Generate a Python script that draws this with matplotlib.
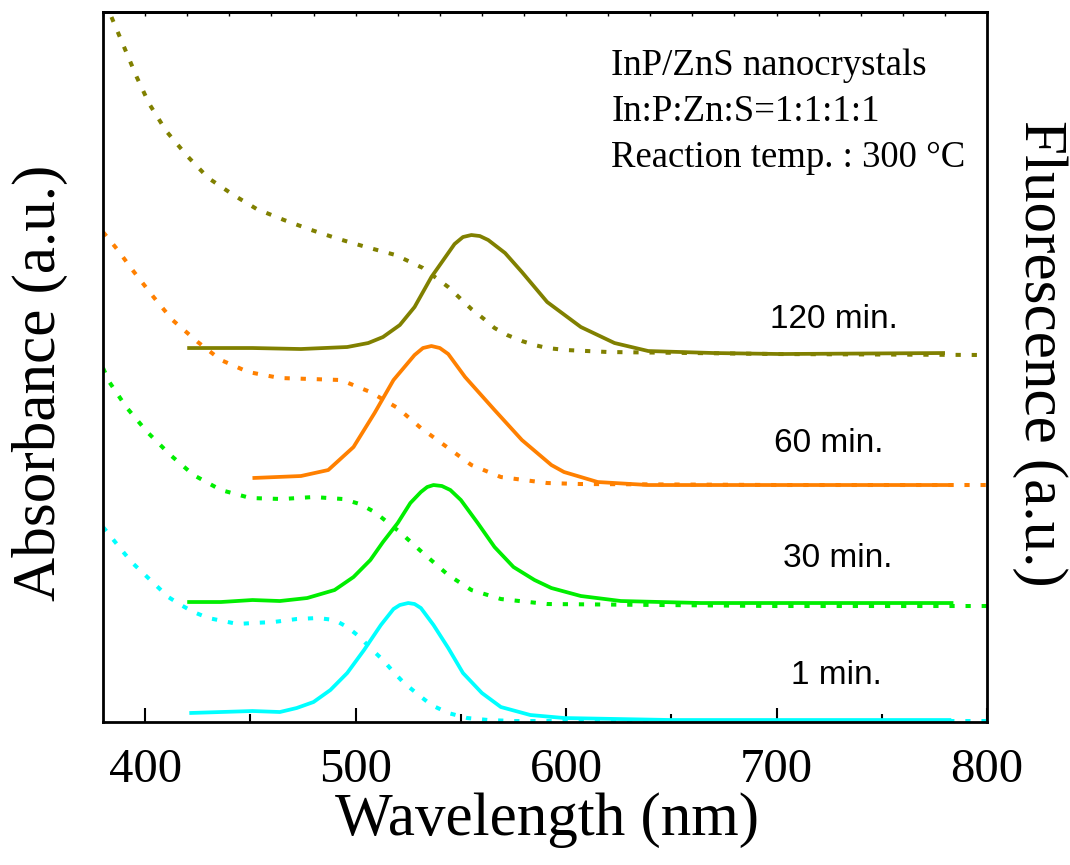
import numpy as np
import matplotlib
matplotlib.use("Agg")
import matplotlib.pyplot as plt
from matplotlib.ticker import MultipleLocator

# absorbance (dotted) and fluorescence (solid), arbitrary units, stacked
abs120_wl = [384, 390, 396, 402, 410, 420, 430, 442, 453, 466, 479, 492, 505, 519, 532, 544,
             555, 561, 566, 572, 579, 585, 591, 600, 620, 700, 800]
abs120 = [705, 675, 645, 618, 591, 566, 544, 527, 513, 502, 492, 483, 475, 467, 454, 435,
          413, 403, 394, 387, 381, 377, 374, 372, 370, 368, 367]
pl120_wl = [420, 451, 474, 496, 506, 513, 521, 528, 536, 541, 547, 551, 555, 559, 563, 571,
            579, 591, 607, 623, 639, 670, 702, 780]
pl120 = [374, 374, 373, 375, 379, 385, 397, 415, 445, 460, 478, 485, 487, 486, 482, 469,
         450, 420, 395, 379, 371, 369, 368, 369]

abs60_wl = [380, 387, 394, 404, 413, 425, 436, 449, 464, 479, 493, 507, 520, 531, 544, 555,
            569, 591, 607, 700, 800]
abs60 = [490, 472, 452, 425, 402, 380, 362, 350, 344, 343, 342, 330, 314, 294, 274, 257,
         245, 239, 238, 237, 237]
pl60_wl = [451, 474, 487, 499, 509, 518, 528, 532, 536, 540, 544, 552, 566, 579, 593, 599,
           615, 639, 700, 784]
pl60 = [244, 246, 252, 275, 309, 342, 367, 374, 376, 374, 368, 345, 312, 282, 257, 250,
        240, 237, 237, 237]

abs30_wl = [380, 383, 391, 401, 412, 423, 436, 450, 465, 480, 494, 502, 509, 515, 521, 532,
            544, 555, 569, 591, 700, 800]
abs30 = [354, 340, 315, 290, 267, 247, 232, 224, 223, 225, 223, 218, 210, 200, 190, 169,
         147, 132, 123, 118, 116, 116]
pl30_wl = [420, 436, 451, 464, 477, 490, 499, 507, 513, 520, 526, 531, 534, 537, 541, 545,
           550, 558, 566, 575, 585, 593, 607, 626, 664, 784]
pl30 = [120, 120, 122, 121, 124, 132, 145, 162, 180, 199, 219, 230, 235, 237, 236, 232,
        222, 199, 175, 155, 142, 134, 126, 121, 119, 119]

abs1_wl = [380, 385, 390, 394, 400, 406, 411, 417, 423, 430, 444, 451, 461, 472, 482, 490,
           496, 502, 507, 513, 518, 523, 530, 536, 544, 553, 563, 575, 617, 800]
abs1 = [195, 182, 169, 159, 147, 135, 125, 117, 110, 104, 98, 99, 100, 103, 104, 102,
        95, 85, 74, 62, 50, 39, 27, 17, 9, 4, 2, 1, 1, 1]
pl1_wl = [421, 436, 451, 464, 472, 480, 488, 496, 504, 512, 518, 521, 525, 528, 531, 537,
          544, 551, 560, 569, 583, 599, 650, 783]
pl1 = [9, 10, 11, 10, 14, 20, 32, 49, 72, 97, 113, 117, 119, 118, 114, 97,
       74, 49, 29, 15, 7, 4, 2, 2]

series = [
    ("120 min.", abs120_wl, abs120, pl120_wl, pl120, "#808000", (697, 403)),
    ("60 min.", abs60_wl, abs60, pl60_wl, pl60, "#FF8000", (699, 279)),
    ("30 min.", abs30_wl, abs30, pl30_wl, pl30, "#00EE00", (703, 164)),
    ("1 min.", abs1_wl, abs1, pl1_wl, pl1, "#00FFFF", (707, 47)),
]

fig = plt.figure(figsize=(10.7, 8.65), dpi=100)
ax = fig.add_axes([0.0963, 0.1653, 0.8262, 0.8208])

for name, aw, av, pw, pv, col, pos in series:
    ax.plot(aw, av, color=col, lw=2.9, linestyle=(0, (1.3, 2.7)))
    ax.plot(pw, pv, color=col, lw=2.7, solid_capstyle="butt", solid_joinstyle="round")
    ax.text(pos[0], pos[1], name, family="Liberation Sans", fontsize=24,
            ha="left", va="center")

ax.set_xlim(380, 800)
ax.set_ylim(0, 710)
ax.set_yticks([])
ax.xaxis.set_major_locator(MultipleLocator(100))
ax.xaxis.set_minor_locator(MultipleLocator(50))
ax.tick_params(axis="x", which="major", direction="in", length=10, width=1.5,
               pad=19, labelsize=35)
ax.tick_params(axis="x", which="minor", direction="in", length=5.5, width=1.5)
for lab in ax.get_xticklabels():
    lab.set_family("Liberation Serif")
for sp in ax.spines.values():
    sp.set_linewidth(2)

top = ax.secondary_xaxis("top")
top.set_xticks(np.arange(380, 801, 20))
top.tick_params(direction="in", length=3, width=1, labeltop=False)
top.spines["top"].set_linewidth(2)

ax.text(0.575, 0.948, "InP/ZnS nanocrystals\nIn:P:Zn:S=1:1:1:1\nReaction temp. : 300 \u00b0C",
        transform=ax.transAxes, family="Liberation Serif", fontsize=26.5,
        ha="left", va="top", linespacing=1.42)

fig.text(0.511, 0.052, "Wavelength (nm)", family="Liberation Serif", fontsize=44,
         ha="center", va="center")
fig.text(0.037, 0.557, "Absorbance (a.u.)", family="Liberation Serif", fontsize=44,
         ha="center", va="center", rotation=90)
fig.text(0.972, 0.591, "Fluorescence (a.u.)", family="Liberation Serif", fontsize=44,
         ha="center", va="center", rotation=270)

fig.savefig("out.png", dpi=100)
